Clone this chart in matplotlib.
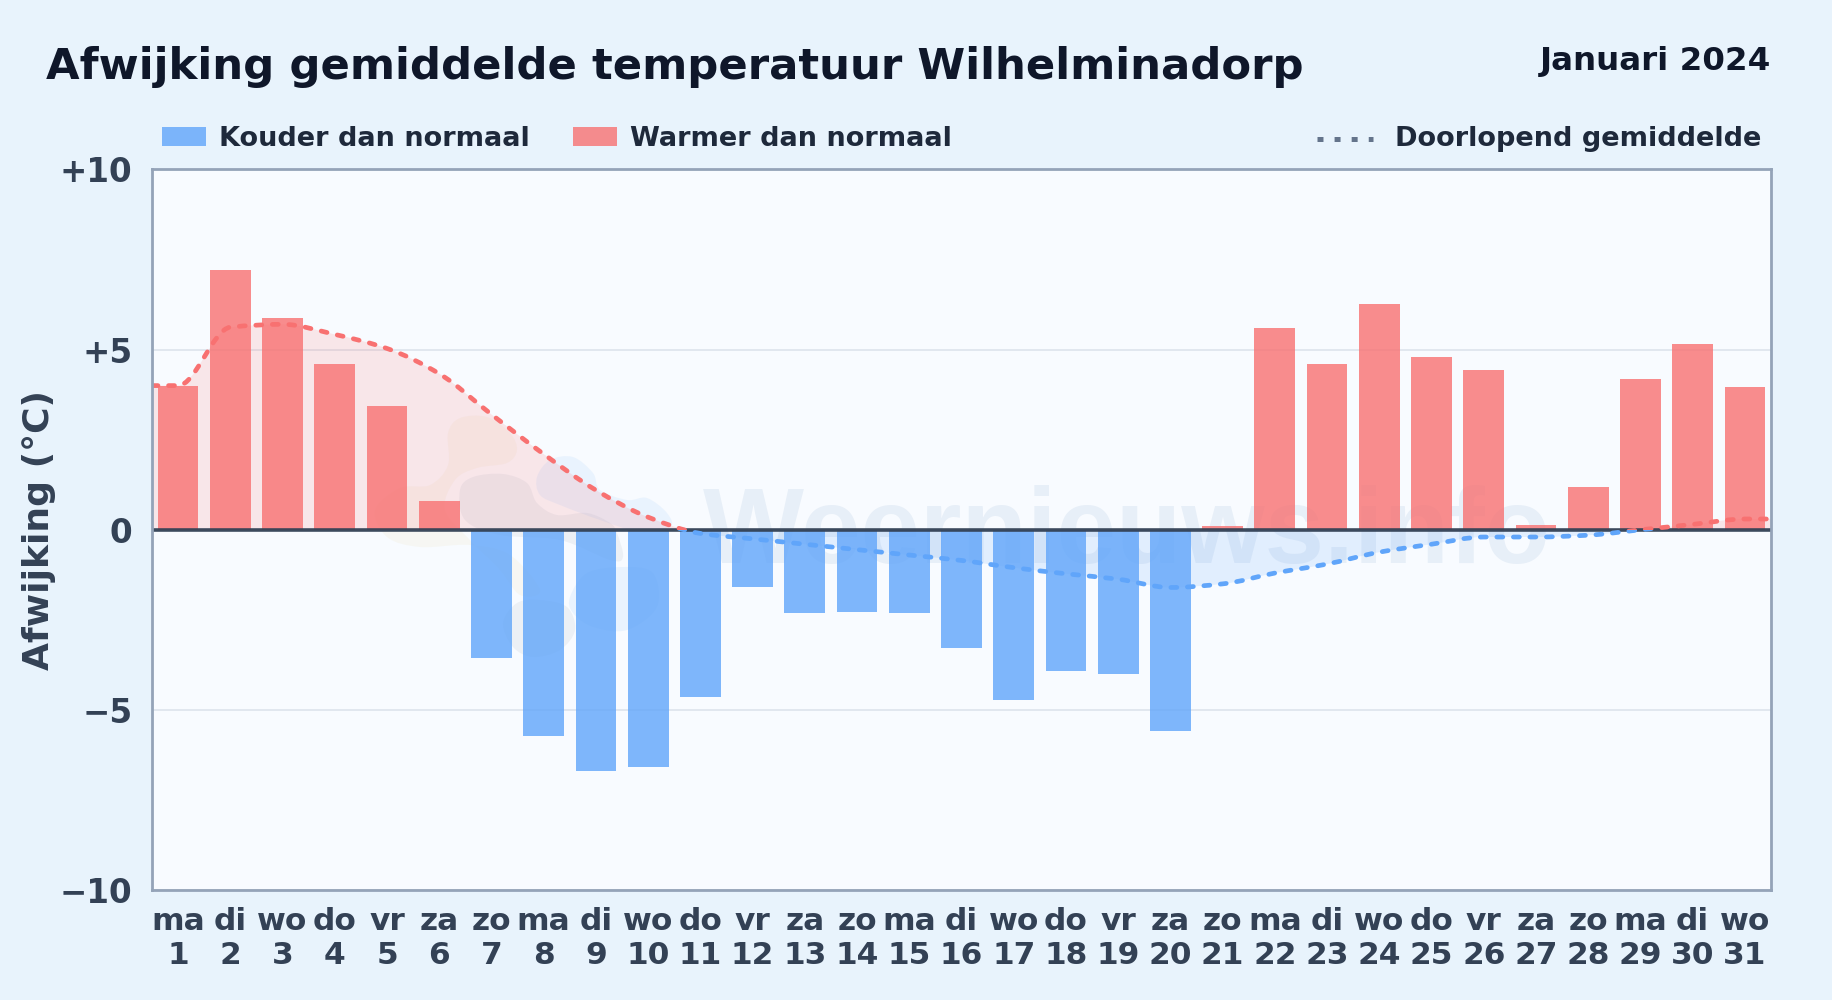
import numpy as np
import matplotlib
matplotlib.use('Agg')
import matplotlib.pyplot as plt
from matplotlib.path import Path
from matplotlib.patches import PathPatch, Rectangle
from matplotlib.lines import Line2D
from matplotlib.transforms import IdentityTransform

plt.rcParams['font.family'] = 'DejaVu Sans'
plt.rcParams['font.weight'] = 'bold'
plt.rcParams['lines.scale_dashes'] = False

# data
days = list(range(1, 32))
weekdays = ['ma', 'di', 'wo', 'do', 'vr', 'za', 'zo'] * 4 + ['ma', 'di', 'wo']
deviation = [4.0, 7.2, 5.88, 4.6, 3.43, 0.8, -3.55, -5.72, -6.7, -6.57, -4.65,
             -1.58, -2.3, -2.28, -2.3, -3.27, -4.72, -3.92, -4.0, -5.58, 0.1,
             5.6, 4.6, 6.25, 4.8, 4.42, 0.13, 1.2, 4.18, 5.15, 3.95]
running_mean = [4.0, 5.62, 5.7, 5.42, 5.03, 4.33, 3.2, 2.1, 1.1, 0.35, -0.1,
                -0.25, -0.4, -0.55, -0.7, -0.85, -1.05, -1.22, -1.37, -1.6, -1.5,
                -1.2, -0.95, -0.62, -0.4, -0.2, -0.2, -0.15, 0.0, 0.15, 0.3]
yticks = [-10, -5, 0, 5, 10]
ytick_labels = ['\u221210', '\u22125', '0', '+5', '+10']

W, H = 1832, 1000
BLUE = '#60A5FA'
RED = '#F87171'
BG = '#E8F3FC'


def fx(px):
    return px / W


def fy(py):
    return 1 - py / H


def monotone_path(xs, ys):
    # smooth curve through the points, no overshoot
    xs = np.asarray(xs, float)
    ys = np.asarray(ys, float)
    h = np.diff(xs)
    s = np.diff(ys) / h
    m = np.zeros(len(xs))
    for i in range(1, len(xs) - 1):
        if s[i - 1] * s[i] > 0:
            m[i] = 2 * s[i - 1] * s[i] / (s[i - 1] + s[i])
    m[0] = s[0]
    m[-1] = s[-1]
    verts = [(xs[0], ys[0])]
    codes = [Path.MOVETO]
    for i in range(len(h)):
        verts += [(xs[i] + h[i] / 3, ys[i] + m[i] * h[i] / 3),
                  (xs[i + 1] - h[i] / 3, ys[i + 1] - m[i + 1] * h[i] / 3),
                  (xs[i + 1], ys[i + 1])]
        codes += [Path.CURVE4] * 3
    return verts, codes


def blob(ax, pts, color, alpha):
    # closed smooth shape in pixels from the top left, for the logo
    pts = np.array([(x, H - y) for x, y in pts], float)
    n = len(pts)
    verts = [tuple(pts[0])]
    codes = [Path.MOVETO]
    for i in range(n):
        p0, p1, p2, p3 = pts[i - 1], pts[i], pts[(i + 1) % n], pts[(i + 2) % n]
        verts += [tuple(p1 + (p2 - p0) / 6), tuple(p2 - (p3 - p1) / 6), tuple(p2)]
        codes += [Path.CURVE4] * 3
    ax.add_patch(PathPatch(Path(verts, codes), facecolor=color, edgecolor='none',
                           alpha=alpha, transform=IdentityTransform(), zorder=0.5))


fig = plt.figure(figsize=(W / 100, H / 100), dpi=100, facecolor=BG)
ax = fig.add_axes([fx(152), fy(890.3), (1771 - 152) / W, (890.3 - 169.3) / H],
                  facecolor='#F8FBFF')
ax.set_xlim(0.5, 31.5)
ax.set_ylim(-10, 10)

# logo + watermark
blob(ax, [(448, 433), (460, 418), (487, 417), (510, 433), (517, 450), (507, 463),
          (477, 468), (455, 480), (445, 510), (470, 540), (500, 570), (520, 595),
          (540, 590), (510, 555), (470, 545), (420, 547), (387, 537), (375, 510),
          (400, 488), (430, 485), (448, 465)], '#E8D8A0', 0.12)
blob(ax, [(460, 490), (473, 477), (503, 474), (527, 483), (537, 503), (557, 515),
          (587, 513), (610, 523), (617, 533), (623, 557), (610, 560), (560, 540),
          (500, 535), (465, 520)], '#64748B', 0.08)
blob(ax, [(537, 477), (550, 460), (573, 457), (593, 473), (600, 490), (627, 500),
          (647, 498), (667, 513), (670, 527), (640, 532), (600, 520), (560, 505),
          (540, 495)], '#93C5FD', 0.14)
blob(ax, [(503, 623), (517, 603), (540, 600), (567, 607), (575, 630), (560, 650),
          (533, 657), (513, 647)], '#64748B', 0.08)
blob(ax, [(570, 597), (587, 573), (623, 567), (653, 573), (657, 607), (627, 630),
          (593, 627), (573, 613)], '#93C5FD', 0.14)
ax.text(fx(703), fy(563), 'Weernieuws.info', transform=fig.transFigure, fontsize=77,
        family='Liberation Sans', color='#2563A8', alpha=0.08, ha='left', va='baseline',
        zorder=0.6)

ax.grid(axis='y', color='#DDE4EC', linewidth=1.2, zorder=1)
ax.set_axisbelow(True)

# area + dashed running mean, split at zero
xline = [0.5] + days + [31.5]
yline = [running_mean[0]] + running_mean + [running_mean[-1]]
verts, codes = monotone_path(xline, yline)
above = Rectangle((0.5, 0), 31, 10, transform=ax.transData)
below = Rectangle((0.5, -10), 31, 10, transform=ax.transData)
area_verts = verts + [(31.5, 0), (0.5, 0), (0.5, 0)]
area_codes = codes + [Path.LINETO, Path.LINETO, Path.CLOSEPOLY]
for clip, col in [(above, RED), (below, BLUE)]:
    area = PathPatch(Path(area_verts, area_codes), facecolor=col, edgecolor='none',
                     alpha=0.15, zorder=1.5)
    ax.add_patch(area)
    area.set_clip_path(clip)

colors = [RED if v >= 0 else BLUE for v in deviation]
ax.bar(days, deviation, width=0.78, color=colors, alpha=0.8, zorder=2)

ax.axhline(0, color='#334155', linewidth=2.6, alpha=0.95, zorder=3)

for clip, col in [(above, RED), (below, BLUE)]:
    line = PathPatch(Path(verts, codes), facecolor='none', edgecolor=col, linewidth=3.4,
                     linestyle=(0, (4.3, 7.6)), capstyle='round', zorder=4)
    ax.add_patch(line)
    line.set_clip_path(clip)

for s in ax.spines.values():
    s.set_color('#94A3B8')
    s.set_linewidth(2)
    s.set_zorder(5)

ax.set_yticks(yticks)
ax.set_yticklabels(ytick_labels, fontsize=23.5, color='#334155')
ax.set_xticks(days)
ax.set_xticklabels([f'{d}\n{n}' for d, n in zip(weekdays, days)], fontsize=22.5,
                   color='#334155', linespacing=1.2)
ax.tick_params(axis='both', length=0)
ax.tick_params(axis='y', pad=14)
ax.tick_params(axis='x', pad=12)

fig.text(fx(39), fy(530), 'Afwijking (\u00b0C)', rotation=90, fontsize=26, color='#334155',
         ha='center', va='center')
fig.text(fx(46), fy(79), 'Afwijking gemiddelde temperatuur Wilhelminadorp', fontsize=31.2,
         color='#0F172A', ha='left', va='baseline')
fig.text(fx(1771), fy(70), 'Januari 2024', fontsize=23.4, color='#0F172A', ha='right',
         va='baseline')

# legend by hand, three separate groups
fig.add_artist(Rectangle((fx(162), fy(146)), 44 / W, 19 / H, transform=fig.transFigure,
                         facecolor=BLUE, alpha=0.8, edgecolor='none'))
fig.text(fx(219), fy(146), 'Kouder dan normaal', fontsize=19.5, color='#1E293B', va='baseline')
fig.add_artist(Rectangle((fx(573), fy(146)), 44 / W, 19 / H, transform=fig.transFigure,
                         facecolor=RED, alpha=0.8, edgecolor='none'))
fig.text(fx(630), fy(146), 'Warmer dan normaal', fontsize=19.5, color='#1E293B', va='baseline')
fig.add_artist(Line2D([fx(1317), fx(1373)], [fy(139), fy(139)], transform=fig.transFigure,
                      color='#64748B', linewidth=3.6, linestyle=(0, (4.3, 8))))
fig.text(fx(1395), fy(146), 'Doorlopend gemiddelde', fontsize=19.5, color='#1E293B',
         va='baseline')

fig.savefig('out.png', dpi=100, facecolor=BG)
